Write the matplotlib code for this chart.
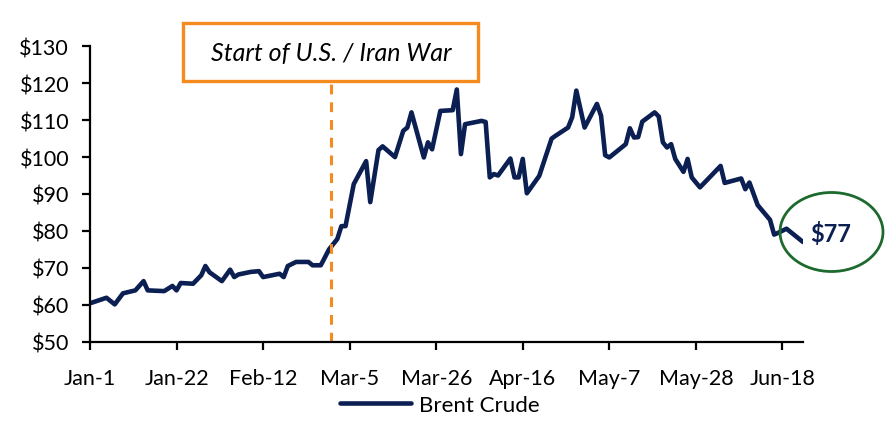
import matplotlib
matplotlib.use("Agg")
import matplotlib.pyplot as plt
import matplotlib.dates as mdates
import matplotlib.patches as mpatches
import matplotlib.ticker as mticker
import pandas as pd

# Brent crude, USD/bbl
dates = ["2026-01-01", "2026-01-05", "2026-01-07", "2026-01-09", "2026-01-12",
         "2026-01-14", "2026-01-15", "2026-01-19", "2026-01-21", "2026-01-22",
         "2026-01-23", "2026-01-26", "2026-01-28", "2026-01-29", "2026-01-30",
         "2026-02-02", "2026-02-04", "2026-02-05", "2026-02-06", "2026-02-09",
         "2026-02-11", "2026-02-12", "2026-02-16", "2026-02-17", "2026-02-18",
         "2026-02-20", "2026-02-23", "2026-02-24", "2026-02-26", "2026-02-28",
         "2026-03-02", "2026-03-03", "2026-03-04", "2026-03-06", "2026-03-09",
         "2026-03-10", "2026-03-12", "2026-03-13", "2026-03-16", "2026-03-18",
         "2026-03-19", "2026-03-20", "2026-03-23", "2026-03-24", "2026-03-25",
         "2026-03-27", "2026-03-30", "2026-03-31", "2026-04-01", "2026-04-02",
         "2026-04-06", "2026-04-07", "2026-04-08", "2026-04-09", "2026-04-10",
         "2026-04-13", "2026-04-14", "2026-04-15", "2026-04-16", "2026-04-17",
         "2026-04-20", "2026-04-23", "2026-04-24", "2026-04-27", "2026-04-28",
         "2026-04-29", "2026-05-01", "2026-05-04", "2026-05-05", "2026-05-06",
         "2026-05-07", "2026-05-11", "2026-05-12", "2026-05-13", "2026-05-14",
         "2026-05-15", "2026-05-18", "2026-05-19", "2026-05-20", "2026-05-21",
         "2026-05-22", "2026-05-23", "2026-05-25", "2026-05-26", "2026-05-27",
         "2026-05-29", "2026-06-03", "2026-06-04", "2026-06-08", "2026-06-09",
         "2026-06-10", "2026-06-12", "2026-06-15", "2026-06-16", "2026-06-17",
         "2026-06-19", "2026-06-23"]
brent = [60.4, 61.9, 60.1, 63.1, 63.9,
         66.4, 63.9, 63.7, 65.1, 63.9,
         65.9, 65.7, 68.0, 70.5, 68.8,
         66.4, 69.5, 67.5, 68.2, 68.9,
         69.1, 67.5, 68.4, 67.5, 70.5,
         71.6, 71.6, 70.7, 70.7, 75.0,
         77.8, 81.3, 81.3, 92.7, 98.9,
         87.8, 101.9, 102.9, 100.0, 107.1,
         108.0, 112.1, 99.9, 104.0, 102.1,
         112.5, 112.7, 118.3, 100.8, 108.9,
         109.8, 109.5, 94.5, 95.4, 95.0,
         99.6, 94.5, 94.5, 99.5, 90.2,
         94.9, 105.0, 105.8, 108.0, 110.8,
         118.0, 108.0, 114.4, 111.2, 100.5,
         99.9, 103.5, 107.8, 105.3, 105.4,
         109.6, 112.1, 111.0, 104.0, 102.6,
         103.5, 99.5, 96.0, 99.5, 94.5,
         91.8, 97.6, 93.0, 94.2, 91.3,
         93.1, 87.0, 83.0, 79.0, 79.5,
         80.6, 77.0]

war_start = "2026-02-28 14:00"
war_label = "Start of U.S. / Iran War"
series_name = "Brent Crude"
last_label = "$77"
x_start, x_end = "2026-01-01", "2026-06-23"

navy = "#0b1f52"
orange = "#f58a1f"
green = "#1d6a2e"

plt.rcParams["font.family"] = ["Lato", "DejaVu Sans"]

fig = plt.figure(figsize=(8.95, 4.31), dpi=100)
ax = fig.add_axes([90 / 895, 1 - 342.7 / 431, 713 / 895, 295.4 / 431])

x = pd.to_datetime(dates)
ax.plot(x, brent, color=navy, lw=3.3, solid_joinstyle="round",
        solid_capstyle="round", label=series_name)

ax.axvline(pd.Timestamp(war_start), ymax=0.883, color=orange, lw=2.2,
           dashes=(3.2, 2.6))

ax.set_ylim(50, 130)
ax.set_xlim(pd.Timestamp(x_start), pd.Timestamp(x_end))
ax.yaxis.set_major_locator(mticker.MultipleLocator(10))
ax.yaxis.set_major_formatter(mticker.FuncFormatter(lambda v, p: f"${v:.0f}"))
ax.xaxis.set_major_locator(mticker.FixedLocator(
    mdates.date2num(pd.date_range(x_start, x_end, freq="21D"))))
ax.xaxis.set_major_formatter(mticker.FuncFormatter(
    lambda v, p: f"{mdates.num2date(v):%b}-{mdates.num2date(v).day}"))

for s in ["top", "right"]:
    ax.spines[s].set_visible(False)
for s in ["left", "bottom"]:
    ax.spines[s].set_linewidth(1.6)
ax.tick_params(axis="both", direction="out", length=6, width=1.6, labelsize=15.5)
ax.tick_params(axis="x", pad=13)
ax.tick_params(axis="y", pad=9)

# annotation box
fig.patches.append(mpatches.Rectangle((183 / 895, 1 - 82 / 431), 295 / 895, 58 / 431,
                                      transform=fig.transFigure, fill=False,
                                      edgecolor=orange, lw=2.4))
fig.text(331 / 895, 1 - 54 / 431, war_label, ha="center", va="center",
         fontsize=18, style="italic")

# last value callout
fig.patches.append(mpatches.Ellipse((831.5 / 895, 1 - 233 / 431), 103 / 895, 79 / 431,
                                    transform=fig.transFigure, fill=False,
                                    edgecolor=green, lw=2.0))
fig.text(831 / 895, 1 - 234 / 431, last_label, ha="center", va="center",
         fontsize=17, fontweight="bold", color=navy)

fig.legend(loc="center", bbox_to_anchor=(440 / 895, 1 - 406 / 431), frameon=False,
           fontsize=16, handlelength=3.2, handletextpad=0.35)

fig.savefig("out.png", dpi=100)
